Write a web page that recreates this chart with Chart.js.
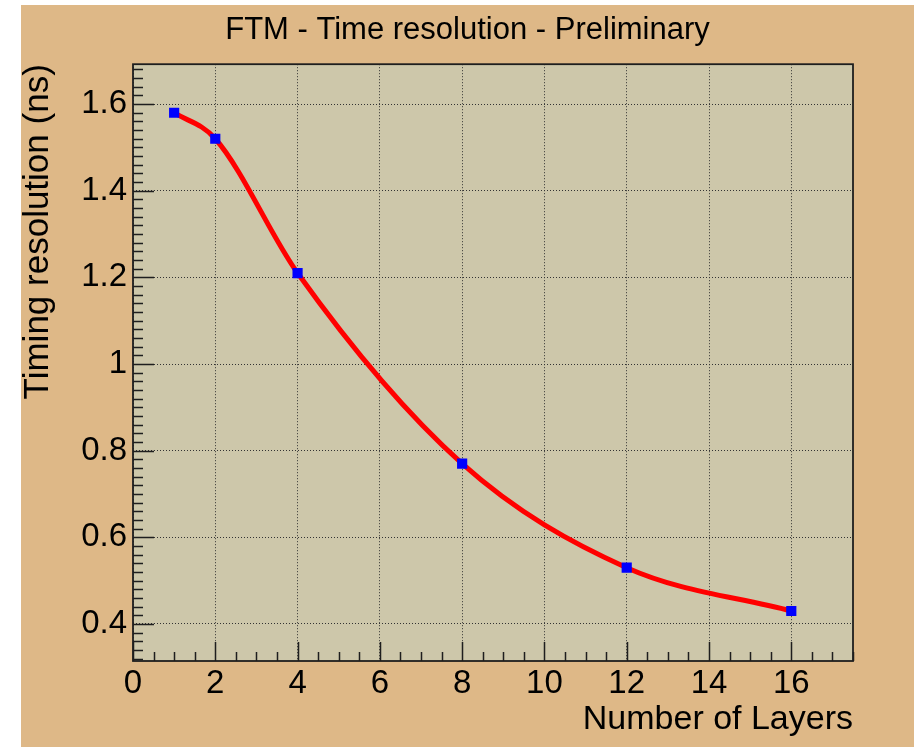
<!DOCTYPE html>
<html lang="en">
<head>
  <meta charset="UTF-8">
  <title>FTM - Time resolution</title>
  <script src="https://cdn.jsdelivr.net/npm/chart.js@4.4.0/dist/chart.umd.min.js"></script>
  <style>
    html, body { margin: 0; padding: 0; background: #ffffff; }
    #ftm-chart { display: block; }
  </style>
</head>
<body>
  <canvas id="ftm-chart" width="914" height="747"></canvas>

  <script>
    // Measured timing resolution vs. number of layers
    const layers = [1, 2, 4, 8, 12, 16];
    const resolution = [1.58, 1.52, 1.21, 0.77, 0.53, 0.43];

    // Axis ticks and their labels
    const xTicks = [0, 2, 4, 6, 8, 10, 12, 14, 16];
    const xTickLabels = ['0', '2', '4', '6', '8', '10', '12', '14', '16'];
    const yTicks = [0.4, 0.6, 0.8, 1.0, 1.2, 1.4, 1.6];
    const yTickLabels = ['0.4', '0.6', '0.8', '1', '1.2', '1.4', '1.6'];

    const FONT = '"Liberation Sans", Arial, Helvetica, sans-serif';
    const PAD_COLOR = '#deb887';
    const FRAME_COLOR = '#cdc7aa';
    const AXIS_COLOR = '#1e1e1e';

    const points = layers.map((x, i) => ({ x: x, y: resolution[i] }));

    // canvas background, pad and frame fill
    const backgroundPlugin = {
      id: 'background',
      beforeDraw(chart) {
        const { ctx, chartArea: a } = chart;
        ctx.save();
        ctx.fillStyle = '#ffffff';
        ctx.fillRect(0, 0, chart.width, chart.height);
        ctx.fillStyle = PAD_COLOR;
        ctx.fillRect(21, 5, chart.width - 21, chart.height - 5);
        ctx.fillStyle = FRAME_COLOR;
        ctx.fillRect(a.left, a.top, a.right - a.left, a.bottom - a.top);
        ctx.restore();
      }
    };

    // inward tick marks (major + minor) and the frame box
    const frameTicksPlugin = {
      id: 'frameTicks',
      afterDraw(chart) {
        const { ctx, chartArea: a } = chart;
        const xs = chart.scales.x, ys = chart.scales.y;
        ctx.save();
        ctx.strokeStyle = AXIS_COLOR;
        ctx.lineWidth = 1.5;
        ctx.beginPath();
        // x axis: minor every 0.5, major every 2
        for (let i = 0; i * 0.5 <= xs.max + 1e-9; i++) {
          const v = i * 0.5;
          const px = Math.round(xs.getPixelForValue(v)) + 0.5;
          const len = (i % 4 === 0) ? 19 : 9;
          ctx.moveTo(px, a.bottom);
          ctx.lineTo(px, a.bottom - len);
        }
        // y axis: minor every 0.02, major every 0.2
        for (let i = Math.ceil(ys.min / 0.02); i * 0.02 <= ys.max + 1e-9; i++) {
          const v = i * 0.02;
          const py = Math.round(ys.getPixelForValue(v)) + 0.5;
          const len = (i % 10 === 0) ? 21 : 10;
          ctx.moveTo(a.left, py);
          ctx.lineTo(a.left + len, py);
        }
        ctx.stroke();
        ctx.lineWidth = 1.8;
        ctx.strokeRect(a.left, a.top, a.right - a.left, a.bottom - a.top);
        ctx.restore();
      }
    };

    const ctx = document.getElementById('ftm-chart').getContext('2d');

    new Chart(ctx, {
      type: 'scatter',
      data: {
        datasets: [
          {
            label: 'measurements',
            data: points,
            showLine: false,
            pointStyle: 'rect',
            pointRadius: 7.2,
            pointHoverRadius: 7.2,
            backgroundColor: '#0000ff',
            borderColor: '#2020ff',
            borderWidth: 0,
            order: 0
          },
          {
            label: 'spline',
            data: points,
            showLine: true,
            borderColor: '#ff0000',
            borderWidth: 5,
            cubicInterpolationMode: 'monotone',
            pointRadius: 0,
            pointHoverRadius: 0,
            fill: false,
            order: 1
          }
        ]
      },
      options: {
        responsive: false,
        animation: false,
        events: [],
        layout: { padding: { left: 21, top: 0, right: 0, bottom: 0 } },
        plugins: {
          legend: { display: false },
          tooltip: { enabled: false },
          title: {
            display: true,
            text: 'FTM - Time resolution - Preliminary',
            color: '#000000',
            font: { family: FONT, size: 31, weight: 'normal', lineHeight: 1.2 },
            padding: { top: 12, bottom: 15 }
          }
        },
        scales: {
          x: {
            type: 'linear',
            min: 0,
            max: 17.5,
            afterBuildTicks: s => { s.ticks = xTicks.map(v => ({ value: v })); },
            afterFit: s => { s.height = 86; },
            ticks: {
              color: '#000000',
              font: { family: FONT, size: 33 },
              padding: 3,
              maxRotation: 0,
              callback: (v) => xTickLabels[xTicks.indexOf(v)]
            },
            grid: {
              color: '#333333',
              lineWidth: 1,
              drawTicks: false
            },
            border: { display: false, dash: [1, 2] },
            title: {
              display: true,
              text: 'Number of Layers',
              align: 'end',
              color: '#000000',
              font: { family: FONT, size: 34, lineHeight: 1.2 },
              padding: { top: 0, bottom: 7 }
            }
          },
          y: {
            type: 'linear',
            min: 0.3146,
            max: 1.692,
            afterBuildTicks: s => { s.ticks = yTicks.map(v => ({ value: v })); },
            afterFit: s => { s.width = 112; },
            ticks: {
              color: '#000000',
              font: { family: FONT, size: 33 },
              padding: 6,
              callback: (v) => yTickLabels[yTicks.findIndex(t => Math.abs(t - v) < 1e-6)]
            },
            grid: {
              color: '#333333',
              lineWidth: 1,
              drawTicks: false
            },
            border: { display: false, dash: [1, 2] },
            title: {
              display: true,
              text: 'Timing resolution (ns)',
              align: 'end',
              color: '#000000',
              font: { family: FONT, size: 35, lineHeight: 1 },
              padding: { top: 0, bottom: 0 }
            }
          },
          // empty right-hand axis reserving the pad margin
          yRight: {
            type: 'linear',
            position: 'right',
            display: true,
            afterFit: s => { s.width = 61; },
            ticks: { display: false },
            grid: { display: false, drawTicks: false },
            border: { display: false }
          }
        }
      },
      plugins: [backgroundPlugin, frameTicksPlugin]
    });
  </script>
</body>
</html>
